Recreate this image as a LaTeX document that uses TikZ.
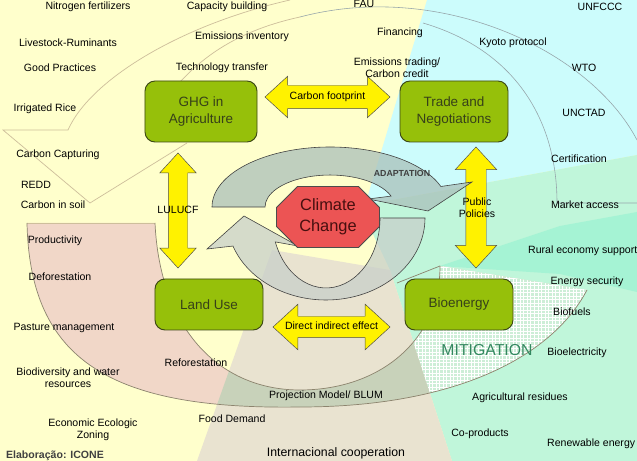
\documentclass[tikz,border=0pt]{standalone}
\usepackage{fontspec}
\setmainfont{Liberation Sans}
\usetikzlibrary{shapes.arrows, shapes.misc, patterns}

\definecolor{bgyellow}{RGB}{255,255,204}
\definecolor{bgcyan}{RGB}{204,252,252}
\definecolor{bgmint}{RGB}{192,246,218}
\definecolor{bgmintdark}{RGB}{165,243,212}
\definecolor{bgbeige}{RGB}{233,227,208}
\definecolor{bandpink}{RGB}{241,215,200}
\definecolor{bandgrey}{RGB}{200,210,186}
\definecolor{gridmint}{RGB}{205,238,215}
\definecolor{boxgreen}{RGB}{150,192,10}
\definecolor{boxline}{RGB}{60,72,20}
\definecolor{boxtext}{RGB}{55,65,25}
\definecolor{tanline}{RGB}{205,190,155}
\definecolor{arcline}{RGB}{150,165,170}
\definecolor{bandline}{RGB}{140,132,110}
\definecolor{octred}{RGB}{236,84,84}
\definecolor{octtext}{RGB}{70,15,15}
\definecolor{mitgreen}{RGB}{50,135,95}
\definecolor{cycleupper}{RGB}{170,192,186}
\definecolor{cyclelower}{RGB}{200,208,202}

\newcommand{\bandpath}{(27,223) .. controls (30,360) and (110,410) .. (300,407) .. controls (450,407) and (550,360) .. (587,290) -- (440,266) .. controls (440,340) and (380,390) .. (300,390) .. controls (220,390) and (160,330) .. (155,223) -- cycle}

\begin{document}
\begin{tikzpicture}[x=0.03cm, y=-0.03cm,
    every node/.style={font=\fontsize{9}{10.5}\selectfont, inner sep=0pt, align=center},
    box/.style={rounded corners=0.3cm, draw=boxline, line width=0.8pt, fill=boxgreen, text=boxtext, minimum width=3.24cm, font=\fontsize{11.5}{14.5}\selectfont},
    yarrow/.style={double arrow, draw=black!70, fill=yellow, double arrow tip angle=85, font=\fontsize{9}{10}\selectfont},
    cyclearrow/.style={draw=black!75, line width=0.5pt, fill opacity=0.75}]
  \useasboundingbox (0,0) rectangle (637,461);
  \fill[bgyellow] (0,0) rectangle (637,461);
  \fill[bgcyan] (427,0) -- (637,0) -- (637,155) -- (365,205) -- cycle;
  \fill[bgmint] (365,205) -- (637,155) -- (637,461) -- (452,461) -- (390,270) -- (372,232) -- cycle;
  \fill[bgmintdark] (440,266) -- (560,226) -- (637,212) -- (637,292) -- (560,274) -- cycle;
  \fill[bgbeige] (272,250) -- (197,461) -- (452,461) -- (390,270) -- cycle;

  \begin{scope}
    \clip \bandpath;
    \fill[bandpink] (0,200) rectangle (637,461);
    \fill[bandgrey] (272,250) -- (197,461) -- (452,461) -- (390,270) -- cycle;
    \fill[gridmint] (390,270) -- (452,461) -- (637,461) -- (637,200) -- cycle;
    \fill[pattern=grid, pattern color=white] (390,270) -- (452,461) -- (637,461) -- (637,200) -- cycle;
  \end{scope}

  \draw[tanline, line width=0.6pt] (27,223) -- (155,223);
  \draw[bandline, line width=0.6pt] (27,223) .. controls (30,360) and (110,410) .. (300,407) .. controls (450,407) and (550,360) .. (587,290);
  \draw[bandline, line width=0.6pt] (155,223) .. controls (160,330) and (220,390) .. (300,390) .. controls (380,390) and (440,340) .. (440,266);
  \draw[bandline, line width=0.6pt] (397,283) -- (440,266);
  \draw[tanline, line width=0.6pt] (290,0) .. controls (180,25) and (90,80) .. (68,130) -- (3,130) -- (90,203) -- (187,143);
  \draw[tanline, line width=0.6pt] (180,82) .. controls (205,55) and (240,30) .. (300,17);
  \draw[arcline, line width=0.5pt] (300,17) .. controls (440,-20) and (590,50) .. (637,140);
  \draw[arcline, line width=0.5pt] (423,23) .. controls (515,50) and (557,120) .. (557,203) -- (637,203);

  \node[yarrow, minimum height=3.75cm, double arrow head extend=0.27cm, inner ysep=0.22cm, text height=0.2cm, text depth=0.05cm] (footprint) at (327.5,97) {\makebox[0pt]{Carbon footprint}};
  \node[yarrow, minimum height=3.51cm, double arrow head extend=0.36cm, inner ysep=0.19cm, text height=0.2cm, text depth=0.05cm] (direct) at (331.5,327) {\makebox[0pt]{Direct indirect effect}};
  \node[yarrow, rotate=90, minimum height=3.45cm, double arrow head extend=0.255cm, inner ysep=0.285cm] (lulucf) at (178,210.5) {};
  \node[yarrow, rotate=90, minimum height=3.63cm, double arrow head extend=0.315cm, inner ysep=0.3cm] (policies) at (476,207.5) {};

  \path[cyclearrow, fill=cyclelower] (425,218) arc[start angle=0, end angle=160, x radius=99, y radius=82] -- (207,249) -- (244,216) -- (298,246) -- (275.3,241.9) arc[start angle=160, end angle=0, x radius=54, y radius=70] -- cycle;
  \path[cyclearrow, fill=cycleupper] (212,207) arc[start angle=180, end angle=340, x radius=118, y radius=60] -- (472,182) -- (428,211) -- (368,199) -- (391.1,196.1) arc[start angle=340, end angle=180, x radius=65, y radius=32] -- cycle;

  \node[box, minimum width=3.36cm, minimum height=1.83cm] (ghg) at (201,111.5) {GHG in\\Agriculture};
  \node[box, minimum height=1.83cm] (trade) at (454,111.5) {Trade and\\Negotiations};
  \node[box, minimum height=1.53cm] (landuse) at (209,304.5) {Land Use};
  \node[box, minimum height=1.53cm] (bioenergy) at (459,304.5) {Bioenergy};
  \node[chamfered rectangle, chamfered rectangle xsep=0.33cm, chamfered rectangle ysep=0.3cm, draw=black!70, line width=0.8pt, fill=octred, minimum width=3.09cm, minimum height=1.83cm, text=octtext, font=\fontsize{14}{18}\selectfont] (climate) at (328,217) {Climate\\Change};

  \node (nitrogen) at (88,7) {Nitrogen fertilizers};
  \node (capacity) at (227,7) {Capacity building};
  \node (livestock) at (68,43) {Livestock-Ruminants};
  \node (inventory) at (242,37) {Emissions inventory};
  \node (practices) at (60,68) {Good Practices};
  \node (technology) at (222,68) {Technology transfer};
  \node (rice) at (45,109) {Irrigated Rice};
  \node (capturing) at (58,155) {Carbon Capturing};
  \node (redd) at (36,185) {REDD};
  \node (soil) at (53,205) {Carbon in soil};
  \node (lulucftext) at (178,210) {LULUCF};
  \node (productivity) at (55,241) {Productivity};
  \node (deforestation) at (60,277) {Deforestation};
  \node (pasture) at (64,328) {Pasture management};
  \node (biodiversity) at (68,378) {Biodiversity and water\\resources};
  \node (reforestation) at (196,363) {Reforestation};
  \node (zoning) at (93,430) {Economic Ecologic\\Zoning};
  \node (food) at (232,419) {Food Demand};
  \node (projection) at (326,396) {Projection Model/ BLUM};
  \node[font=\fontsize{10.5}{12}\selectfont] (cooperation) at (336,453) {Internacional cooperation};
  \node[font=\bfseries\fontsize{9}{10}\selectfont, text=black!75] (elaboracao) at (55,456) {Elaboração: ICONE};

  \node (fau) at (364,4) {FAU};
  \node (unfccc) at (600,7) {UNFCCC};
  \node (financing) at (400,33) {Financing};
  \node (kyoto) at (513,43) {Kyoto protocol};
  \node (trading) at (397,68) {Emissions trading/\\Carbon credit};
  \node (wto) at (584,68) {WTO};
  \node (unctad) at (584,113) {UNCTAD};
  \node[font=\bfseries\fontsize{7.5}{9}\selectfont, text=black!75] (adaptation) at (402,173) {ADAPTATION};
  \node (certification) at (579,159) {Certification};
  \node (policiestext) at (477,208) {Public\\Policies};
  \node (market) at (585,205) {Market access};
  \node[anchor=west] (rural) at (528,251) {Rural economy support};
  \node (security) at (587,282) {Energy security};
  \node (biofuels) at (572,312) {Biofuels};
  \node (bioelectricity) at (577,353) {Bioelectricity};
  \node[font=\fontsize{13.5}{15}\selectfont, text=mitgreen] (mitigation) at (487,350) {MITIGATION};
  \node (residues) at (520,398) {Agricultural residues};
  \node (coproducts) at (480,434) {Co-products};
  \node[anchor=west] (renewable) at (547,444) {Renewable energy};
\end{tikzpicture}
\end{document}
